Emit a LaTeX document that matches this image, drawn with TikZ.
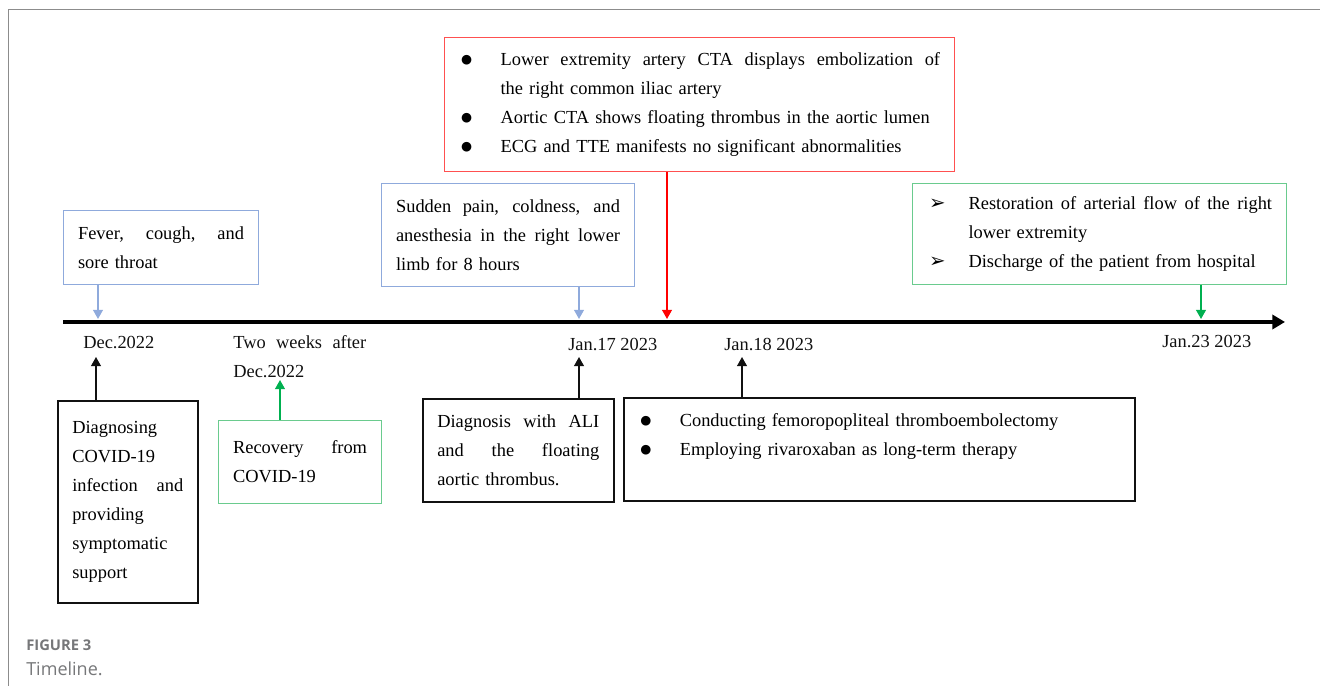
\documentclass[tikz,border=0pt]{standalone}
\usepackage{fontspec}
\setmainfont{Liberation Serif}
\newfontfamily\capfont{Open Sans}
\newfontfamily\symfont{DejaVu Sans}
\usepackage{tikz}
\usetikzlibrary{arrows.meta}
\definecolor{ink}{HTML}{111111}
\definecolor{frame}{HTML}{8C8C8C}
\definecolor{caption}{HTML}{767779}
\definecolor{softblue}{HTML}{8FAADC}
\definecolor{softred}{HTML}{FF5050}
\definecolor{alarm}{HTML}{FF0000}
\definecolor{softgreen}{HTML}{6ACB8E}
\definecolor{leaf}{HTML}{00B050}
\newlength\bind
\setlength\bind{1.0375cm}
\newcommand{\dotmark}{\raisebox{1.6pt}{\symfont\fontsize{9}{9}\selectfont ●}}
\newcommand{\arrmark}{\raisebox{0.3pt}{\symfont\fontsize{14}{14}\selectfont ➢}}
\newcommand{\bitem}[2]{\mbox{\makebox[\bind][l]{\hspace{0.05cm}#1}#2}}
\newcommand{\jline}[2]{{\spaceskip=0pt\xspaceskip=0pt\makebox[#1][s]{#2}}}
\tikzset{
  eventBox/.style={line width=0.8pt, anchor=north west, align=left, inner xsep=0.3625cm, inner ysep=0pt, font=\fontsize{13.1}{20.6}\selectfont},
  blueBox/.style={eventBox, draw=softblue},
  redBox/.style={eventBox, draw=softred},
  greenBox/.style={eventBox, draw=softgreen},
  blackBox/.style={eventBox, draw=ink, line width=1.1pt},
  dateLabel/.style={anchor=base west, inner sep=0pt, text=ink, font=\fontsize{13.1}{20.6}\selectfont},
  axisLine/.style={draw=black, line width=3.2pt, -{Triangle[length=9pt,width=10pt]}},
  tipArrow/.style={line width=1.1pt, -{Triangle[length=6.5pt,width=7pt]}},
  frameLine/.style={draw=frame, line width=0.7pt},
  capHead/.style={anchor=base west, inner sep=0pt, text=caption, font=\capfont\bfseries\fontsize{10.5}{12}\selectfont},
  capText/.style={anchor=base west, inner sep=0pt, text=caption, font=\capfont\fontsize{12.8}{14}\selectfont}
}
\begin{document}
\begin{tikzpicture}
  \useasboundingbox (0,0) rectangle (33,17.15);
  \draw[frameLine] (0.2,0) -- (0.2,16.9) -- (33,16.9);

  \coordinate (axisL) at (1.575,9.1);
  \coordinate (axisR) at (32.125,9.1);
  \draw[axisLine] (axisL) -- (axisR);

  \node[blueBox, text width=4.15cm, minimum height=1.85cm] (fever) at (1.575,11.9)
    {\jline{4.15cm}{Fever, cough, and}\\ sore throat};
  \node[blueBox, text width=5.6cm, minimum height=2.575cm] (sudden) at (9.525,12.575)
    {\jline{5.6cm}{Sudden pain, coldness, and}\\ \jline{5.6cm}{anesthesia in the right lower}\\ limb for 8 hours};
  \node[redBox, text width=12.025cm, minimum height=3.35cm] (cta) at (11.1,16.225)
    {\bitem{\dotmark}{\jline{10.9875cm}{Lower extremity artery CTA displays embolization of}}\\
     \hspace*{\bind}the right common iliac artery\\
     \bitem{\dotmark}{Aortic CTA shows floating thrombus in the aortic lumen}\\
     \bitem{\dotmark}{ECG and TTE manifests no significant abnormalities}};
  \node[greenBox, text width=8.625cm, minimum height=2.525cm] (restore) at (22.8,12.575)
    {\bitem{\arrmark}{\jline{7.5875cm}{Restoration of arterial flow of the right}}\\
     \hspace*{\bind}lower extremity\\
     \bitem{\arrmark}{Discharge of the patient from hospital}};

  \node[blackBox, text width=2.775cm, minimum height=5.05cm] (diagnose) at (1.425,7.15)
    {Diagnosing\\ COVID-19\\ \jline{2.775cm}{infection and}\\ providing\\ symptomatic\\ support};
  \node[greenBox, text width=3.35cm, minimum height=2.075cm] (recovery) at (5.45,6.65)
    {\jline{3.35cm}{Recovery from}\\ COVID-19};
  \node[blackBox, text width=4.05cm, minimum height=2.575cm] (ali) at (10.55,7.2)
    {\jline{4.05cm}{Diagnosis with ALI}\\ \jline{4.05cm}{and the floating}\\ aortic thrombus.};
  \node[blackBox, text width=12.05cm, minimum height=2.575cm] (surgery) at (15.575,7.225)
    {\bitem{\dotmark}{Conducting femoropopliteal thromboembolectomy}\\
     \bitem{\dotmark}{Employing rivaroxaban as long-term therapy}\\ \mbox{}};

  \node[dateLabel] (dec) at (2.075,8.425) {Dec.2022};
  \node[dateLabel] (twoweeks) at (5.825,8.425) {\jline{3.325cm}{Two weeks after}};
  \node[dateLabel] (twodec) at (5.825,7.7) {Dec.2022};
  \node[dateLabel] (jan17) at (14.2,8.375) {Jan.17 2023};
  \node[dateLabel] (jan18) at (18.1,8.375) {Jan.18 2023};
  \node[dateLabel] (jan23) at (29.05,8.45) {Jan.23 2023};

  \coordinate (hitDec) at (2.45,9.175);
  \coordinate (hitJ17) at (14.475,9.175);
  \coordinate (hitCTA) at (16.675,9.175);
  \coordinate (hitJ23) at (30.025,9.175);
  \coordinate (upDec) at (2.4,8.225);
  \coordinate (upTwo) at (7.0,7.65);
  \coordinate (upJ17) at (14.475,8.225);
  \coordinate (upJ18) at (18.55,8.225);

  \draw[tipArrow, softblue] (fever.south -| hitDec) -- (hitDec);
  \draw[tipArrow, softblue] (sudden.south -| hitJ17) -- (hitJ17);
  \draw[tipArrow, alarm] (cta.south -| hitCTA) -- (hitCTA);
  \draw[tipArrow, leaf] (restore.south -| hitJ23) -- (hitJ23);
  \draw[tipArrow, ink] (diagnose.north -| upDec) -- (upDec);
  \draw[tipArrow, leaf] (recovery.north -| upTwo) -- (upTwo);
  \draw[tipArrow, ink] (ali.north -| upJ17) -- (upJ17);
  \draw[tipArrow, ink] (surgery.north -| upJ18) -- (upJ18);

  \node[capHead] (fignum) at (0.65,0.875) {FIGURE 3};
  \node[capText] (figtitle) at (0.65,0.275) {Timeline.};
\end{tikzpicture}
\end{document}
